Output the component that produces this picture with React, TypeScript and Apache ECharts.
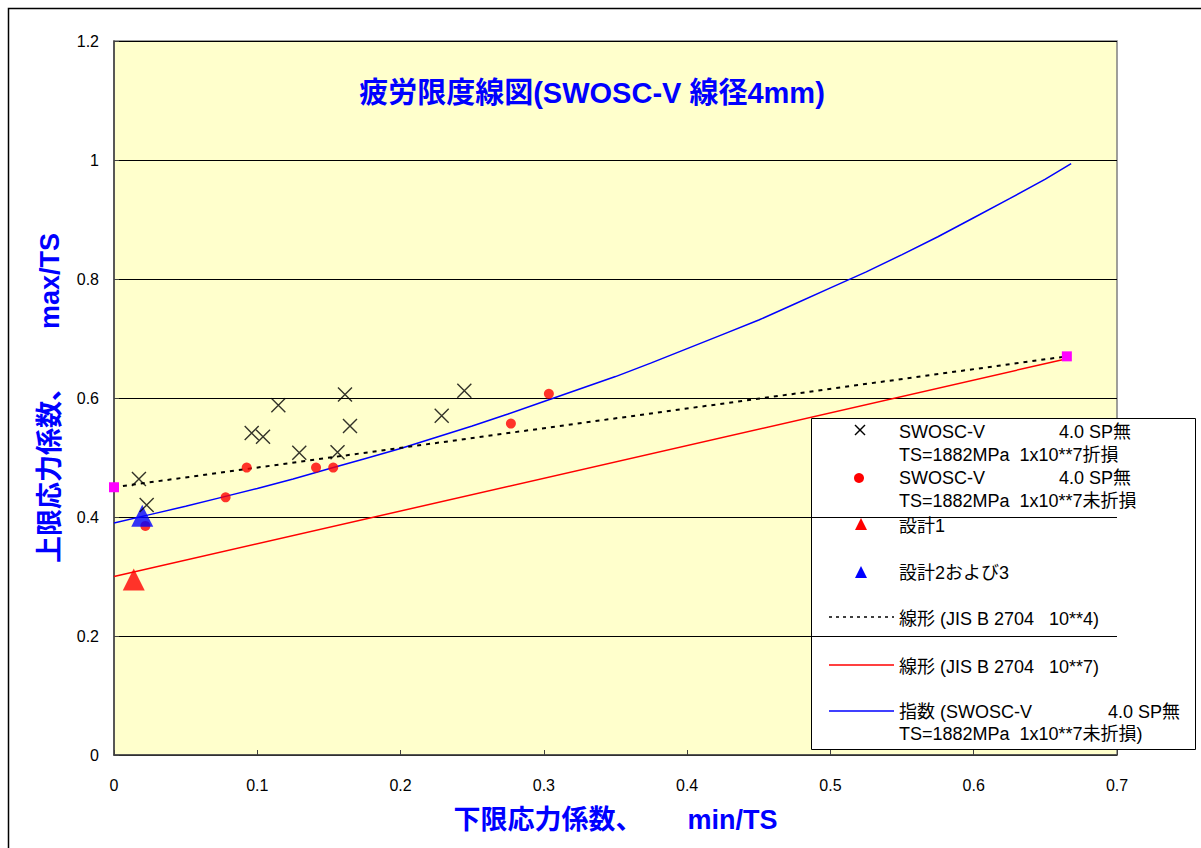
import React, { useEffect, useRef } from "react";
import * as echarts from "echarts";

// 1x10**7 broken (×)
const brokenX = [0.0174, 0.0228, 0.0961, 0.104, 0.1147, 0.1293, 0.156, 0.1612, 0.1647, 0.2287, 0.2445];
const brokenY = [0.464, 0.42, 0.541, 0.535, 0.588, 0.508, 0.509, 0.606, 0.553, 0.57, 0.612];
// 1x10**7 not broken (●)
const unbrokenX = [0.0219, 0.0779, 0.0926, 0.141, 0.153, 0.277, 0.3035];
const unbrokenY = [0.385, 0.433, 0.483, 0.483, 0.483, 0.557, 0.607];
// design points
const design1X = [0.0138];
const design1Y = [0.295];
const design23X = [0.0197];
const design23Y = [0.402];
// JIS B 2704 10**4 (dotted) and 10**7 (red)
const jis4X = [0, 0.665];
const jis4Y = [0.45, 0.67];
const jis7X = [0, 0.665];
const jis7Y = [0.3, 0.666];
// exponential trend (blue)
const expX = [0, 0.025, 0.05, 0.075, 0.1, 0.125, 0.15, 0.175, 0.2, 0.225, 0.25, 0.275, 0.3, 0.325, 0.35, 0.375, 0.4, 0.425, 0.45, 0.475, 0.5, 0.525, 0.55, 0.575, 0.6, 0.625, 0.65, 0.668];
const expY = [0.39, 0.404, 0.418, 0.433, 0.448, 0.464, 0.481, 0.498, 0.515, 0.534, 0.553, 0.573, 0.594, 0.615, 0.636, 0.659, 0.683, 0.707, 0.731, 0.758, 0.785, 0.812, 0.841, 0.871, 0.903, 0.935, 0.968, 0.994];

const titleText = "疲労限度線図(SWOSC-V 線径4mm)";
const xName = "下限応力係数、      min/TS";
const yName = "上限応力係数、      max/TS";

const legendMain = [
  "SWOSC-V",
  "TS=1882MPa  1x10**7折損",
  "SWOSC-V",
  "TS=1882MPa  1x10**7未折損",
  "設計1",
  "設計2および3",
  "線形 (JIS B 2704   10**4)",
  "線形 (JIS B 2704   10**7)",
  "指数 (SWOSC-V",
  "TS=1882MPa  1x10**7未折損)",
];
const legendSide = "4.0 SP無";

const FONT = "'Liberation Sans', 'Noto Sans CJK JP', sans-serif";

const zip = (xs: number[], ys: number[]) => xs.map((x, i) => [x, ys[i]]);

export default function App() {
  const ref = useRef<HTMLDivElement>(null);
  useEffect(() => {
    if (!ref.current) return;
    const chart = echarts.init(ref.current, undefined, { renderer: "svg" });

    const rowY = [432, 455, 478, 501, 526, 573, 619, 667, 712, 734];
    const lf = `18px ${FONT}`;
    const legendTexts: any[] = legendMain.map((t, i) => ({
      type: "text",
      style: { text: t, x: 899, y: rowY[i], verticalAlign: "middle", font: lf, fill: "#000" },
    }));
    legendTexts.push(
      { type: "text", style: { text: legendSide, x: 1059, y: rowY[0], verticalAlign: "middle", font: lf, fill: "#000" } },
      { type: "text", style: { text: legendSide, x: 1059, y: rowY[2], verticalAlign: "middle", font: lf, fill: "#000" } },
      { type: "text", style: { text: legendSide, x: 1108, y: rowY[8], verticalAlign: "middle", font: lf, fill: "#000" } }
    );

    chart.setOption({
      animation: false,
      backgroundColor: "#ffffff",
      textStyle: { fontFamily: FONT },
      grid: {
        left: 114,
        top: 41,
        right: 84,
        bottom: 93,
        show: true,
        backgroundColor: "#FFFFCC",
        borderColor: "#808080",
        borderWidth: 1.5,
      },
      xAxis: {
        type: "value",
        min: 0,
        max: 0.7,
        interval: 0.1,
        name: xName,
        nameLocation: "middle",
        nameGap: 51,
        nameTextStyle: { color: "#0000FF", fontSize: 27, fontWeight: "bold", fontFamily: FONT },
        axisLine: { show: true, lineStyle: { color: "#404040", width: 1.5 } },
        axisTick: { show: true, inside: true, length: 5, lineStyle: { color: "#404040" } },
        axisLabel: { color: "#000", fontSize: 16, margin: 22, fontFamily: FONT },
        splitLine: { show: false },
      },
      yAxis: {
        type: "value",
        min: 0,
        max: 1.2,
        interval: 0.2,
        name: yName,
        nameLocation: "middle",
        nameGap: 51,
        nameTextStyle: { color: "#0000FF", fontSize: 27, fontWeight: "bold", fontFamily: FONT },
        axisLine: { show: true, lineStyle: { color: "#404040", width: 1.5 } },
        axisTick: { show: true, inside: true, length: 5, lineStyle: { color: "#404040" } },
        axisLabel: { color: "#000", fontSize: 16, margin: 15, fontFamily: FONT },
        splitLine: { show: true, lineStyle: { color: "#000", width: 1 } },
      },
      series: [
        {
          type: "line",
          data: zip(jis7X, jis7Y),
          showSymbol: false,
          symbol: "none",
          lineStyle: { color: "#FF0000", width: 1.5 },
          z: 2,
        },
        {
          type: "line",
          data: zip(expX, expY),
          showSymbol: false,
          symbol: "none",
          lineStyle: { color: "#0000FF", width: 1.5 },
          z: 2,
        },
        {
          type: "line",
          data: zip(jis4X, jis4Y),
          symbol: "rect",
          symbolSize: 10,
          itemStyle: { color: "#FF00FF" },
          lineStyle: { color: "#000", width: 2, type: [4, 5] },
          z: 3,
        },
        {
          type: "scatter",
          data: zip(unbrokenX, unbrokenY),
          symbol: "circle",
          symbolSize: 10,
          itemStyle: { color: "#FF0000" },
          z: 4,
        },
        {
          type: "scatter",
          data: zip(design1X, design1Y),
          symbol: "triangle",
          symbolSize: 22,
          itemStyle: { color: "#FF0000" },
          z: 5,
        },
        {
          type: "scatter",
          data: zip(design23X, design23Y),
          symbol: "triangle",
          symbolSize: 22,
          itemStyle: { color: "#0000FF" },
          z: 5,
        },
        {
          type: "scatter",
          data: zip(brokenX, brokenY),
          symbol: "path://M0,0L10,10M10,0L0,10",
          symbolSize: 14,
          itemStyle: { color: "rgba(0,0,0,0)", borderColor: "#000", borderWidth: 1.4 },
          z: 6,
        },
      ],
      graphic: [
        {
          type: "rect",
          silent: true,
          shape: { x: 8.5, y: 8.5, width: 1210, height: 860 },
          style: { fill: "none", stroke: "#000", lineWidth: 1.5 },
        },
        {
          type: "text",
          style: {
            text: titleText,
            x: 592,
            y: 93,
            align: "center",
            verticalAlign: "middle",
            font: `bold 29px ${FONT}`,
            fill: "#0000FF",
          },
        },
        {
          type: "group",
          z: 100,
          children: [
            {
              type: "rect",
              shape: { x: 811.5, y: 418.5, width: 384, height: 331 },
              style: { fill: "#fff", stroke: "#000", lineWidth: 1 },
            },
            { type: "line", shape: { x1: 855, y1: 425, x2: 865, y2: 435 }, style: { stroke: "#000", lineWidth: 1.4 } },
            { type: "line", shape: { x1: 865, y1: 425, x2: 855, y2: 435 }, style: { stroke: "#000", lineWidth: 1.4 } },
            { type: "circle", shape: { cx: 859, cy: 478, r: 5 }, style: { fill: "#FF0000" } },
            { type: "polygon", shape: { points: [[861, 518], [855, 530], [867, 530]] }, style: { fill: "#FF0000" } },
            { type: "polygon", shape: { points: [[861, 566], [855, 578], [867, 578]] }, style: { fill: "#0000FF" } },
            { type: "line", shape: { x1: 829, y1: 617, x2: 894, y2: 617 }, style: { stroke: "#000", lineWidth: 1.5, lineDash: [3, 4] } },
            { type: "line", shape: { x1: 829, y1: 665, x2: 894, y2: 665 }, style: { stroke: "#FF0000", lineWidth: 1.5 } },
            { type: "line", shape: { x1: 829, y1: 711, x2: 894, y2: 711 }, style: { stroke: "#0000FF", lineWidth: 1.5 } },
            ...legendTexts,
          ],
        },
      ],
    });
    return () => chart.dispose();
  }, []);
  return (
    <div
      ref={ref}
      style={{ position: "absolute", left: 0, top: 0, width: 1201, height: 848 }}
    />
  );
}
